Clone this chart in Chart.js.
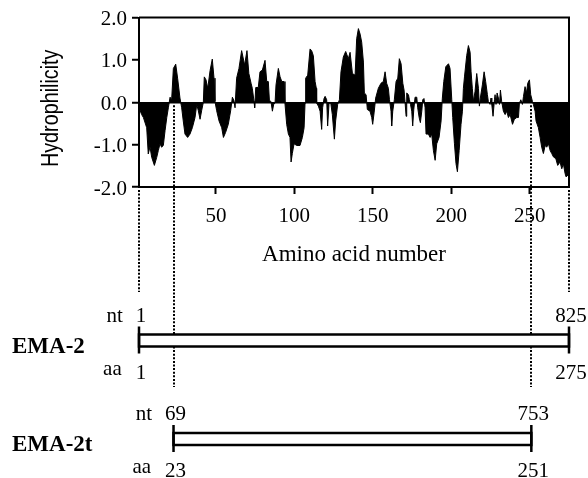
<!DOCTYPE html>
<html>
<head>
<meta charset="utf-8">
<script src="https://cdn.jsdelivr.net/npm/chart.js@4.4.1/dist/chart.umd.min.js"></script>
<style>
  html, body { margin: 0; padding: 0; background: #fff; }
</style>
</head>
<body>
<canvas id="myChart" width="588" height="478"></canvas>
<script>
const aaPos = [
  1.0, 2.7, 3.8, 5.9, 6.9, 8.0, 9.1, 10.8, 12.3, 13.3, 14.4, 15.4, 16.5, 17.6, 18.7, 19.7,
  20.8, 21.8, 22.9, 24.4, 25.6, 27.1, 28.2, 29.2, 30.3, 32.0, 33.5, 35.0, 36.7, 37.8, 38.8,
  39.9, 40.9, 42.0, 42.6, 43.7, 44.8, 46.3, 47.7, 48.8, 49.4, 50.5, 52.0, 53.7, 54.8, 56.2,
  57.9, 59.4, 60.5, 61.5, 62.2, 63.2, 64.7, 66.4, 68.3, 69.8, 71.0, 72.4, 73.2, 74.3, 74.7,
  75.4, 77.0, 78.1, 79.6, 81.3, 82.4, 83.4, 84.1, 85.1, 86.0, 86.8, 87.7, 88.3, 89.8, 90.9,
  92.0, 93.4, 94.0, 95.1, 96.2, 97.2, 97.9, 98.7, 99.8, 101.5, 103.6, 105.1, 106.2, 106.8,
  107.2, 108.5, 110.0, 111.0, 112.1, 113.2, 114.0, 114.2, 115.3, 116.4, 117.4, 118.0, 118.9,
  119.6, 120.6, 121.2, 122.1, 123.2, 124.2, 125.5, 126.3, 127.6, 128.7, 129.7, 131.2, 132.7,
  134.4, 135.5, 137.0, 138.7, 139.7, 140.8, 141.9, 142.9, 144.0, 144.6, 145.7, 146.5, 148.2,
  149.3, 149.9, 150.8, 151.8, 153.5, 155.2, 156.7, 157.8, 158.8, 159.9, 160.6, 161.6, 162.0,
  162.7, 163.7, 164.8, 165.9, 166.9, 168.0, 169.1, 169.9, 170.5, 171.2, 171.6, 172.7, 173.3,
  174.0, 174.8, 175.4, 176.1, 176.9, 178.0, 178.6, 179.5, 180.3, 181.2, 181.8, 182.6, 183.3,
  183.9, 185.4, 186.5, 187.5, 188.6, 189.7, 190.7, 192.2, 193.5, 194.3, 195.2, 196.5, 198.2,
  199.2, 200.3, 200.9, 202.0, 203.0, 203.9, 205.0, 206.2, 207.1, 207.7, 208.4, 209.8, 210.9,
  212.0, 212.6, 213.4, 214.1, 215.1, 216.2, 217.3, 217.9, 218.5, 219.8, 220.9, 221.9, 223.0,
  223.6, 224.7, 225.3, 225.8, 226.6, 227.5, 227.9, 228.5, 229.2, 230.0, 230.7, 231.3, 232.1,
  233.2, 234.3, 235.3, 236.4, 237.5, 239.0, 240.2, 241.7, 242.8, 243.4, 244.3, 245.3, 246.0,
  247.0, 247.9, 248.7, 249.8, 250.6, 251.7, 252.3, 253.4, 254.0, 255.5, 256.6, 257.6, 258.7,
  259.8, 260.8, 261.9, 263.0, 264.0, 265.1, 266.6, 267.8, 269.3, 270.4, 271.4, 272.5, 273.1,
  275.0
];
const hydro = [
  -0.13, -0.29, -0.36, -0.60, -1.22, -1.05, -1.30, -1.49, -1.30, -1.14, -0.98, -1.06, -1.02, -0.67, -0.36, -0.13,
  0.12, 0.06, 0.80, 0.90, 0.57, 0.10, -0.13, -0.44, -0.75, -0.83, -0.75, -0.60, -0.36, -0.05, -0.20,
  -0.40, -0.20, 0.00, 0.60, 0.53, 0.33, 0.75, 1.02, 0.57, 0.02, -0.20, -0.44, -0.60, -0.83, -0.71,
  -0.52, -0.20, 0.12, 0.04, -0.13, 0.57, 0.80, 1.22, 0.88, 1.22, 0.68, 0.45, 0.33, 0.02, -0.13,
  0.35, 0.35, 0.72, 0.76, 0.99, 0.49, 0.49, 0.04, 0.02, -0.21, -0.05, -0.02, 0.41, 0.80, 0.60,
  0.49, 0.49, -0.02, -0.52, -0.75, -0.83, -1.41, -1.21, -0.98, -1.02, -1.02, -0.83, -0.60, -0.02,
  0.57, 0.64, 1.26, 1.22, 1.10, 0.49, 0.33, -0.02, -0.09, -0.21, -0.64, -0.13, 0.09,
  0.14, 0.06, -0.56, -0.02, -0.02, -0.29, -0.87, -0.44, -0.05, 0.06, 0.72, 1.07, 1.20,
  1.03, 1.18, 0.68, 0.64, 1.50, 1.74, 1.61, 1.42, 0.95, 0.22, 0.18, -0.17, -0.21,
  -0.36, -0.52, -0.25, 0.10, 0.33, 0.45, 0.49, 0.72, 0.45, 0.33, 0.06, -0.21, -0.56,
  -0.21, 0.06, 0.49, 0.57, 1.03, 0.91, 0.45, 0.29, 0.02, -0.33, 0.22, 0.18, 0.06,
  -0.05, -0.21, -0.56, -0.17, 0.12, 0.12, -0.13, -0.36, -0.48, -0.21, 0.06, 0.09, -0.13,
  -0.75, -0.75, -0.83, -0.75, -1.14, -1.37, -0.98, -0.83, -0.44, 0.10, 0.49, 0.84, 0.91,
  0.80, 0.06, -0.36, -0.98, -1.45, -1.64, -1.14, -0.52, -0.21, 0.33, 0.60, 1.10, 1.34,
  1.18, 0.72, 0.33, 0.02, 0.25, 0.68, 0.33, -0.09, 0.10, 0.41, 0.72, 0.49, 0.18,
  0.02, -0.05, 0.10, -0.05, -0.33, 0.06, 0.18, -0.05, 0.22, 0.10, -0.05, 0.29, 0.02,
  -0.21, -0.29, -0.21, -0.36, -0.29, -0.52, -0.40, -0.36, -0.36, -0.02, 0.06, -0.05, 0.14,
  0.37, 0.22, 0.45, 0.53, 0.18, 0.02, -0.05, -0.21, -0.44, -0.60, -0.83, -1.06, -1.21,
  -1.02, -1.06, -0.98, -1.14, -1.21, -1.29, -1.33, -1.49, -1.41, -1.57, -1.45, -1.68, -1.76,
  -1.70
];
const yTicks = [-2, -1, 0, 1, 2];
const xTicks = [50, 100, 150, 200, 250];

// constructs drawn under the profile: aa range and nt range of each
const constructs = ['EMA-2', 'EMA-2t'];
const aaStart = [1, 23];
const aaEnd = [275, 251];
const ntStart = [1, 69];
const ntEnd = [825, 753];

const serif = "'Liberation Serif', 'Times New Roman', serif";

// draws the frame, the narrow y title, the dotted guides and the construct bars
const schematic = {
  id: 'schematic',
  afterDraw(chart) {
    const ctx = chart.ctx;
    const xs = chart.scales.x;
    const ys = chart.scales.y;
    const area = chart.chartArea;
    const rowY = [340.5, 439];

    ctx.save();
    ctx.strokeStyle = '#000';
    ctx.lineWidth = 2;
    ctx.beginPath();
    ctx.moveTo(area.left, area.top);
    ctx.lineTo(area.right, area.top);
    ctx.lineTo(area.right, area.bottom);
    ctx.stroke();

    // y title, condensed like the original
    ctx.save();
    ctx.translate(52, (area.top + area.bottom) / 2 + 6);
    ctx.rotate(-Math.PI / 2);
    ctx.scale(0.86, 1);
    ctx.fillStyle = '#000';
    ctx.font = "23px 'Liberation Sans', Arial, sans-serif";
    ctx.textAlign = 'center';
    ctx.textBaseline = 'middle';
    ctx.fillText('Hydrophilicity', 0, 0);
    ctx.restore();

    // dotted guides
    ctx.setLineDash([2, 1.6]);
    ctx.lineWidth = 2;
    [aaStart[0], aaEnd[0]].forEach(a => {
      const px = Math.round(xs.getPixelForValue(a));
      ctx.beginPath();
      ctx.moveTo(px, area.bottom + 3);
      ctx.lineTo(px, 292);
      ctx.stroke();
    });
    [aaStart[1], aaEnd[1]].forEach(a => {
      const px = Math.round(xs.getPixelForValue(a));
      ctx.beginPath();
      ctx.moveTo(px, ys.getPixelForValue(0) + 3);
      ctx.lineTo(px, 387);
      ctx.stroke();
    });
    ctx.setLineDash([]);

    constructs.forEach((name, i) => {
      const c = rowY[i];
      const x0 = xs.getPixelForValue(aaStart[i]);
      const x1 = xs.getPixelForValue(aaEnd[i]);
      ctx.fillStyle = '#fff';
      ctx.fillRect(x0, c - 6, x1 - x0, 12);
      ctx.lineWidth = 2.5;
      ctx.strokeRect(x0, c - 6, x1 - x0, 12);
      ctx.beginPath();
      ctx.moveTo(x0, c - 14); ctx.lineTo(x0, c + 13);
      ctx.moveTo(x1, c - 14); ctx.lineTo(x1, c + 13);
      ctx.stroke();

      ctx.fillStyle = '#000';
      ctx.font = 'bold 23px ' + serif;
      ctx.textAlign = 'left';
      ctx.textBaseline = 'alphabetic';
      ctx.fillText(name, 12, c + 12);

      ctx.font = '21px ' + serif;
      ctx.textAlign = 'center';
      ctx.fillText(String(ntStart[i]), x0 + 2, c - 19);
      ctx.fillText(String(ntEnd[i]), x1 + 2, c - 19);
      ctx.fillText(String(aaStart[i]), x0 + 2, c + 38);
      ctx.fillText(String(aaEnd[i]), x1 + 2, c + 38);

      ctx.textAlign = 'right';
      const wTop = ctx.measureText(String(ntStart[i])).width;
      const wBot = ctx.measureText(String(aaStart[i])).width;
      ctx.fillText('nt', x0 + 2 - wTop / 2 - 13, c - 19);
      ctx.fillText('aa', x0 + 2 - wBot / 2 - 14, c + 34);
    });
    ctx.restore();
  }
};

const ctx = document.getElementById('myChart').getContext('2d');
const myChart = new Chart(ctx, {
  type: 'line',
  data: {
    datasets: [{
      data: aaPos.map((a, i) => ({ x: a, y: hydro[i] })),
      borderColor: '#000',
      backgroundColor: '#000',
      borderWidth: 1,
      fill: 'origin',
      pointRadius: 0,
      tension: 0
    }]
  },
  options: {
    responsive: false,
    animation: false,
    layout: {
      padding: { left: 38, right: 19, top: 15, bottom: 209 }
    },
    plugins: {
      legend: { display: false },
      tooltip: { enabled: false }
    },
    scales: {
      x: {
        type: 'linear',
        min: 1,
        max: 275,
        afterBuildTicks: s => { s.ticks = xTicks.map(v => ({ value: v })); },
        afterFit: s => { s.height = 82; },
        border: { display: true, color: '#000', width: 2 },
        grid: { drawOnChartArea: false, drawTicks: true, tickLength: 7, tickColor: '#000', tickWidth: 2 },
        ticks: { color: '#000', padding: 10, font: { family: serif, size: 21 }, maxRotation: 0 },
        title: {
          display: true,
          text: 'Amino acid number',
          color: '#000',
          font: { family: serif, size: 23 },
          padding: { top: 0, bottom: 0 }
        }
      },
      y: {
        min: -2,
        max: 2,
        afterBuildTicks: s => { s.ticks = yTicks.map(v => ({ value: v })); },
        afterFit: s => { s.width = 101; },
        border: { display: true, color: '#000', width: 2 },
        grid: {
          drawTicks: true,
          tickLength: 7,
          tickColor: '#000',
          tickWidth: 2,
          lineWidth: 1.5,
          color: c => (c.tick && c.tick.value === 0 ? '#000' : 'rgba(0,0,0,0)')
        },
        ticks: {
          color: '#000',
          padding: 5,
          labelOffset: 2,
          font: { family: serif, size: 21 },
          callback: v => v.toFixed(1)
        }
      }
    }
  },
  plugins: [schematic]
});
</script>
</body>
</html>
